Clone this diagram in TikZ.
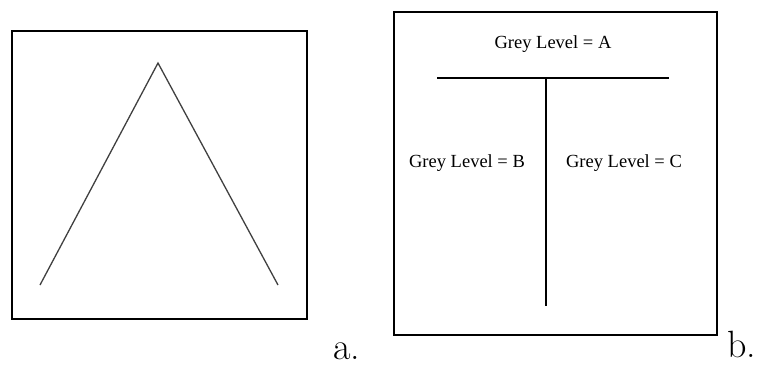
\documentclass[tikz,border=0pt]{standalone}
\usepackage{fontspec}
\newfontfamily\greyfont{Liberation Serif}
\usetikzlibrary{positioning}

\begin{document}
\begin{tikzpicture}[x=1pt,y=-1pt,line join=miter,line cap=butt]
  \useasboundingbox (0,0) rectangle (758,365);
  \tikzset{frame/.style={line width=2pt},
           greytext/.style={font=\greyfont\fontsize{18.5}{21}\selectfont,inner sep=0pt},
           caption/.style={font=\fontsize{38}{40}\selectfont,inner sep=0pt,anchor=base}}

  % picture a
  \coordinate (A) at (40,285);
  \coordinate (T) at (158,63);
  \coordinate (B) at (278,285);
  \draw[frame] (12,31) rectangle (307,319);
  \draw[line width=1.3pt,black!75] (A)--(T)--(B);
  \node[caption] (capa) at (347,359) {a.};

  % picture b
  \coordinate (L) at (437,78);
  \coordinate (R) at (669,78);
  \coordinate (J) at (546,78);
  \coordinate (S) at (546,306);
  \draw[frame] (394,12) rectangle (717,335);
  \draw[frame] (L)--(R);
  \draw[frame] (J)--(S);
  \node[greytext] (levA) at (553,44) {Grey Level = A};
  \node[greytext] (levB) at (467,163) {Grey Level = B};
  \node[greytext] (levC) at (624,163) {Grey Level = C};
  \node[caption] (capb) at (742,357) {b.};
\end{tikzpicture}
\end{document}
